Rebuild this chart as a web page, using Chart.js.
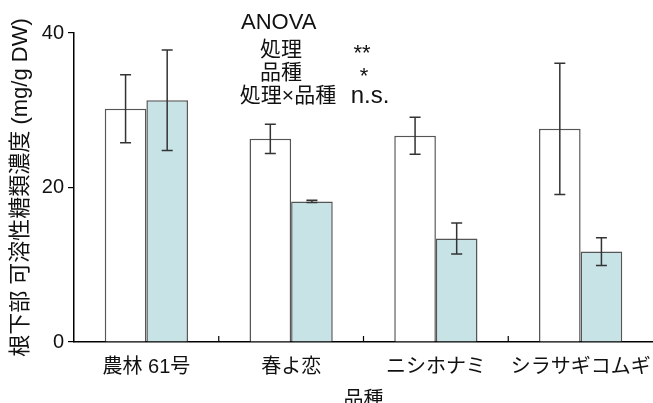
<!DOCTYPE html>
<html>
<head>
<meta charset="utf-8">
<script src="https://cdn.jsdelivr.net/npm/chart.js@4"></script>
<style>
  html, body { margin: 0; padding: 0; background: #fff; }
  #wrap { width: 653px; height: 403px; }
</style>
</head>
<body>
<div id="wrap"><canvas id="sugarChart"></canvas></div>
<script>
// varieties and root soluble sugar (mean, SE)
var varieties = ['農林 61号', '春よ恋', 'ニシホナミ', 'シラサギコムギ'];
var controlMean = [30.2, 26.3, 26.7, 27.6];
var controlErr = [4.4, 1.9, 2.4, 8.5];
var treatMean = [31.3, 18.2, 13.4, 11.7];
var treatErr = [6.5, 0.15, 2.0, 1.8];
var yTicks = [0, 20, 40];

// ANOVA summary lines
var anovaTerms = ['処理', '品種', '処理×品種'];
var anovaMarks = ['**', '*', 'n.s.'];

var FONT = "'Liberation Sans', 'Noto Sans CJK JP', sans-serif";

// draws mean +/- SE whiskers on each bar
var errorBars = {
  id: 'errorBars',
  afterDatasetsDraw: function(chart) {
    var y = chart.scales.y;
    var ctx = chart.ctx;
    ctx.save();
    ctx.strokeStyle = '#333';
    ctx.lineWidth = 1.5;
    chart.data.datasets.forEach(function(ds, i) {
      var meta = chart.getDatasetMeta(i);
      meta.data.forEach(function(bar, j) {
        var v = ds.data[j], e = ds.errors[j];
        var top = y.getPixelForValue(v + e);
        var bot = y.getPixelForValue(v - e);
        ctx.beginPath();
        ctx.moveTo(bar.x, top); ctx.lineTo(bar.x, bot);
        ctx.moveTo(bar.x - 5.5, top); ctx.lineTo(bar.x + 5.5, top);
        ctx.moveTo(bar.x - 5.5, bot); ctx.lineTo(bar.x + 5.5, bot);
        ctx.stroke();
      });
    });
    ctx.restore();
  }
};

// small inward ticks between varieties + ANOVA text block
var extras = {
  id: 'extras',
  afterDraw: function(chart) {
    var x = chart.scales.x;
    var area = chart.chartArea;
    var ctx = chart.ctx;
    ctx.save();
    ctx.strokeStyle = '#000';
    ctx.lineWidth = 1.2;
    for (var i = 1; i < varieties.length; i++) {
      var px = (x.getPixelForTick(i - 1) + x.getPixelForTick(i)) / 2;
      ctx.beginPath();
      ctx.moveTo(px, area.bottom);
      ctx.lineTo(px, area.bottom - 6);
      ctx.stroke();
    }

    ctx.fillStyle = '#111';
    ctx.textBaseline = 'middle';
    ctx.font = '22px ' + FONT;
    ctx.textAlign = 'left';
    ctx.fillText('ANOVA', 241, 23);
    var rows = [50, 73, 96];
    var termX = [281, 281, 288];
    var markX = [362, 364, 370];
    anovaTerms.forEach(function(t, k) {
      ctx.textAlign = 'center';
      ctx.font = '21px ' + FONT;
      ctx.fillText(t, termX[k], rows[k]);
      ctx.font = (k === 2 ? '24px ' : '22px ') + FONT;
      ctx.fillText(anovaMarks[k], markX[k], rows[k] + (k === 2 ? 0 : 4));
    });
    ctx.restore();
  }
};

var ctx = document.getElementById('sugarChart').getContext('2d');
new Chart(ctx, {
  type: 'bar',
  data: {
    labels: varieties,
    datasets: [
      {
        label: '対照',
        data: controlMean,
        errors: controlErr,
        backgroundColor: '#ffffff',
        borderColor: '#555',
        borderWidth: 1.5,
        categoryPercentage: 0.575,
        barPercentage: 1.0
      },
      {
        label: '処理',
        data: treatMean,
        errors: treatErr,
        backgroundColor: 'rgb(199,227,230)',
        borderColor: '#555',
        borderWidth: 1.5,
        categoryPercentage: 0.575,
        barPercentage: 1.0
      }
    ]
  },
  options: {
    responsive: true,
    maintainAspectRatio: false,
    animation: false,
    layout: { padding: { top: 33, left: 0, right: 0, bottom: 0 } },
    plugins: {
      legend: { display: false },
      tooltip: { enabled: false }
    },
    scales: {
      x: {
        grid: { display: false },
        border: { color: '#000', width: 1.5 },
        ticks: {
          color: '#111',
          padding: 5,
          maxRotation: 0,
          minRotation: 0,
          autoSkip: false,
          font: { size: 20, family: FONT }
        },
        title: {
          display: true,
          text: '品種',
          color: '#111',
          font: { size: 20, family: FONT, lineHeight: 1 },
          padding: { top: 0, bottom: -7 }
        },
        afterFit: function(scale) {
          scale.height = 61;
          scale.paddingLeft = 0;
          scale.paddingRight = 0;
        }
      },
      y: {
        min: 0,
        max: 40,
        afterBuildTicks: function(scale) {
          scale.ticks = yTicks.map(function(v) { return { value: v }; });
        },
        grid: {
          drawOnChartArea: false,
          color: '#000',
          lineWidth: 1.2,
          tickLength: 6
        },
        border: { color: '#000', width: 1.5 },
        ticks: {
          color: '#111',
          padding: 4,
          font: { size: 20, family: FONT }
        },
        title: {
          display: true,
          text: '根下部 可溶性糖類濃度 (mg/g DW)',
          color: '#111',
          font: { size: 22, family: FONT, lineHeight: 1.2 },
          padding: { top: 8, bottom: 0 }
        },
        afterFit: function(scale) { scale.width = 74; }
      }
    }
  },
  plugins: [errorBars, extras]
});
</script>
</body>
</html>
